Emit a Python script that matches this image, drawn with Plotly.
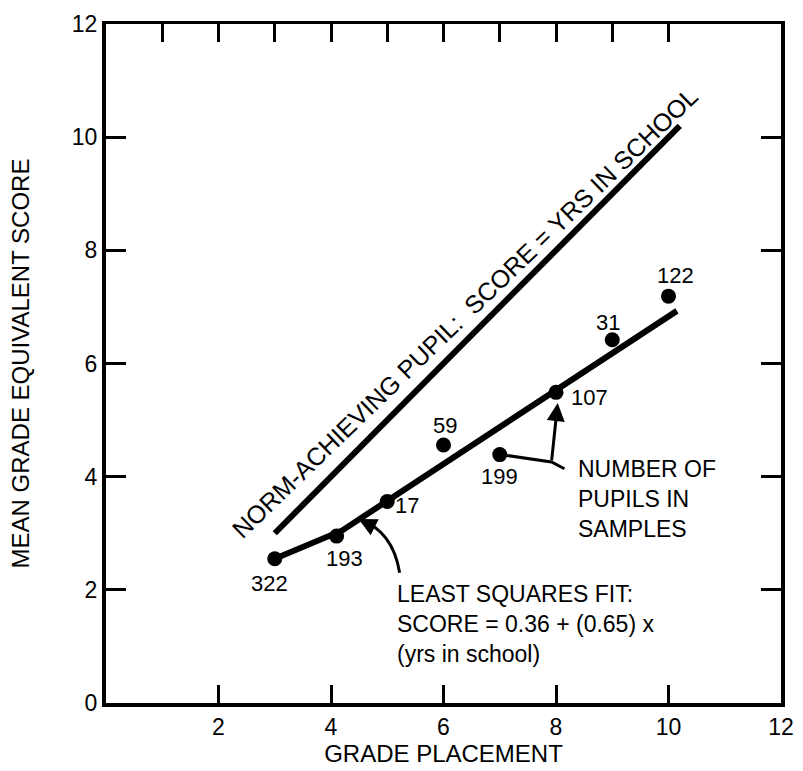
import plotly.graph_objects as go

# ---- data ----
grade = [3, 4.1, 5, 6, 7, 8, 9, 10]
score = [2.55, 2.95, 3.56, 4.56, 4.39, 5.49, 6.42, 7.19]
pupils = ["322", "193", "17", "59", "199", "107", "31", "122"]

fit_x = [3.0, 4.2, 10.15]
fit_y = [2.55, 3.05, 6.93]

norm_x = [3.0, 10.2]
norm_y = [3.0, 10.2]

x_ticks = [2, 4, 6, 8, 10, 12]
y_ticks = [0, 2, 4, 6, 8, 10, 12]
top_ticks = [1, 2, 3, 4, 5, 6, 7, 8, 9, 10]

# label pixel offsets (layout only)
label_shift = [(-5, -25), (8, -22), (20, -4), (1, 19), (0, -22), (33, -5), (-4, 17), (7, 21)]

FONT = "Liberation Sans"

fig = go.Figure()
fig.add_trace(go.Scatter(x=norm_x, y=norm_y, mode="lines",
                         line=dict(color="black", width=6), showlegend=False, hoverinfo="skip"))
fig.add_trace(go.Scatter(x=fit_x, y=fit_y, mode="lines",
                         line=dict(color="black", width=6), showlegend=False, hoverinfo="skip"))
fig.add_trace(go.Scatter(x=grade, y=score, mode="markers",
                         marker=dict(color="black", size=15), showlegend=False))
# invisible trace to activate top axis
fig.add_trace(go.Scatter(x=[None], y=[None], xaxis="x2", showlegend=False))

annotations = []
for gx, gy, t, (dx, dy) in zip(grade, score, pupils, label_shift):
    annotations.append(dict(x=gx, y=gy, text=t, showarrow=False, xshift=dx, yshift=dy,
                            font=dict(family=FONT, size=22, color="black")))

annotations.append(dict(x=6.37, y=6.9, text="NORM-ACHIEVING PUPIL:&nbsp; SCORE = YRS IN SCHOOL",
                        textangle=-44, showarrow=False,
                        font=dict(family=FONT, size=25, color="black")))
annotations.append(dict(x=8.36, y=3.6, text="NUMBER OF<br>PUPILS IN<br>SAMPLES",
                        xanchor="left", yanchor="middle", align="left", showarrow=False,
                        font=dict(family=FONT, size=23, color="black")))
annotations.append(dict(x=5.13, y=1.39, text="LEAST SQUARES FIT:<br>SCORE = 0.36 + (0.65) x<br>(yrs in school)",
                        xanchor="left", yanchor="middle", align="left", showarrow=False,
                        font=dict(family=FONT, size=23, color="black")))
# arrow up to 107 point
annotations.append(dict(x=8.03, y=5.3, ax=7.92, ay=4.26, xref="x", yref="y", axref="x", ayref="y",
                        showarrow=True, arrowhead=2, arrowsize=1.2, arrowwidth=3, arrowcolor="black",
                        text=""))
# arrow tip onto fit line
annotations.append(dict(x=4.49, y=3.25, ax=4.75, ay=3.12, xref="x", yref="y", axref="x", ayref="y",
                        showarrow=True, arrowhead=2, arrowsize=1.2, arrowwidth=3, arrowcolor="black",
                        text=""))

shapes = [
    # bracket from 199 point to the text
    dict(type="path", xref="x", yref="y",
         path="M 7.02 4.39 L 7.92 4.26 L 8.15 4.14",
         line=dict(color="black", width=3)),
    # curved pointer from least squares text to the fit line
    dict(type="path", xref="x", yref="y",
         path="M 4.49 3.25 Q 5.1 3.05 5.22 2.3",
         line=dict(color="black", width=3)),
]

fig.update_layout(
    width=803, height=771,
    margin=dict(l=106, r=9, t=24, b=63),
    paper_bgcolor="white", plot_bgcolor="white",
    font=dict(family=FONT, size=22, color="black"),
    annotations=annotations, shapes=shapes,
    xaxis=dict(range=[0, 12], tickvals=x_ticks, ticktext=[str(v) for v in x_ticks],
               ticks="inside", ticklen=18, tickwidth=3, tickcolor="black",
               showline=True, linewidth=4, linecolor="black", mirror=False,
               showgrid=False, zeroline=False,
               tickfont=dict(family=FONT, size=23, color="black"),
               title=dict(text="GRADE PLACEMENT", standoff=6,
                          font=dict(family=FONT, size=24, color="black"))),
    xaxis2=dict(range=[0, 12], overlaying="x", side="top", tickvals=top_ticks,
                ticks="inside", ticklen=18, tickwidth=3, tickcolor="black",
                showticklabels=False, showline=True, linewidth=3, linecolor="black",
                showgrid=False, zeroline=False),
    yaxis=dict(range=[0, 12], tickvals=y_ticks, ticktext=[str(v) for v in y_ticks],
               ticks="inside", ticklen=20, tickwidth=3, tickcolor="black",
               showline=True, linewidth=4, linecolor="black", mirror="ticks",
               showgrid=False, zeroline=False,
               tickfont=dict(family=FONT, size=23, color="black"),
               title=dict(text="MEAN GRADE EQUIVALENT SCORE", standoff=36,
                          font=dict(family=FONT, size=24, color="black"))),
)

fig.write_html("out.html")
